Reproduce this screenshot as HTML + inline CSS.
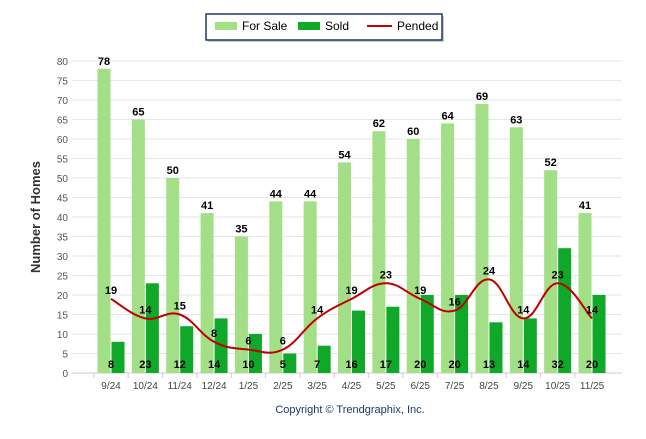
<!DOCTYPE html>
<html><head><meta charset="utf-8"><style>
body{margin:0;background:#fff;font-family:"Liberation Sans",Arial,sans-serif}
svg text{font-family:"Liberation Sans",Arial,sans-serif}
</style></head><body>
<svg id="c" width="646" height="434" xmlns="http://www.w3.org/2000/svg">
<g>
<rect x="208" y="16" width="236" height="26" fill="#ccc"/>
<rect x="206" y="14" width="236" height="26" fill="#fff" stroke="#1f3864" stroke-width="1.5"/>
<rect x="215" y="22" width="22" height="8" fill="#a2df86"/>
<text x="242" y="30" font-size="12" fill="#000">For Sale</text>
<rect x="298" y="22" width="22" height="8" fill="#0fa829"/>
<text x="325" y="30" font-size="12" fill="#000">Sold</text>
<line x1="367" y1="26" x2="392" y2="26" stroke="#c00000" stroke-width="2"/>
<text x="397" y="30" font-size="12" fill="#000">Pended</text>
</g>
<text transform="translate(40,217) rotate(-90)" text-anchor="middle" font-size="13" font-weight="bold" fill="#333">Number of Homes</text>
<text x="350" y="413" text-anchor="middle" font-size="11" fill="#1f3864">Copyright © Trendgraphix, Inc.</text>
<g id="grid"></g><g id="bars"></g><g id="line"></g><g id="labels"></g>
</svg>
<script>
const categories=["9/24","10/24","11/24","12/24","1/25","2/25","3/25","4/25","5/25","6/25","7/25","8/25","9/25","10/25","11/25"];
const forSale=[78,65,50,41,35,44,44,54,62,60,64,69,63,52,41];
const sold=[8,23,12,14,10,5,7,16,17,20,20,13,14,32,20];
const pended=[19,14,15,8,6,6,14,19,23,19,16,24,14,23,14];
const yTicks=[0,5,10,15,20,25,30,35,40,45,50,55,60,65,70,75,80];
const NS="http://www.w3.org/2000/svg";
const y=v=>373-v*3.9;
const x=i=>111+i*34.36;
function mk(tag,attrs,parent,txt){const e=document.createElementNS(NS,tag);for(const k in attrs)e.setAttribute(k,attrs[k]);if(txt!==undefined)e.textContent=txt;document.getElementById(parent).appendChild(e);return e;}
yTicks.forEach(t=>{
 const l=mk('line',{x1:72,x2:622,y1:y(t),y2:y(t),stroke:t===0?'#ccc':'#e6e6e6','stroke-width':1},'grid');
 
 
 const tx=mk('text',{x:68,y:y(t)+4,'text-anchor':'end','font-size':10,fill:'#555'},'grid',t);
 
 
});
categories.forEach((c,i)=>{
 const tk=mk('line',{x1:x(i)-17.2,x2:x(i)-17.2,y1:373,y2:378,stroke:'#ccc'},'grid');
 
 
 const t=mk('text',{x:x(i),y:389,'text-anchor':'middle','font-size':10,fill:'#444'},'grid',c);
 
 
 const b1=mk('rect',{x:x(i)-13.5,y:y(forSale[i]),width:13,height:y(0)-y(forSale[i]),fill:'#a2df86'},'bars');
 
 
 const b2=mk('rect',{x:x(i)+0.5,y:y(sold[i]),width:13,height:y(0)-y(sold[i]),fill:'#0fa829'},'bars');
 
 
 const l1=mk('text',{x:x(i)-7,y:y(forSale[i])-4,'text-anchor':'middle','font-size':11,'font-weight':'bold',fill:'#000'},'labels',forSale[i]);
 
 
 const l2=mk('text',{x:x(i),y:368,'text-anchor':'middle','font-size':11,'font-weight':'bold',fill:'#000'},'labels',sold[i]);
 
 
 const l3=mk('text',{x:x(i),y:y(pended[i])-5,'text-anchor':'middle','font-size':11,'font-weight':'bold',fill:'#000'},'labels',pended[i]);
 
 
});
const pts=pended.map((v,i)=>[x(i),y(v)]);
let d='M'+pts[0][0]+','+pts[0][1];
for(let i=0;i<pts.length-1;i++){
 const p0=pts[i-1]||pts[i],p1=pts[i],p2=pts[i+1],p3=pts[i+2]||p2;
 const k=0.2;
 d+=` C${p1[0]+(p2[0]-p0[0])*k},${p1[1]+(p2[1]-p0[1])*k} ${p2[0]-(p3[0]-p1[0])*k},${p2[1]-(p3[1]-p1[1])*k} ${p2[0]},${p2[1]}`;
}
const pl=mk('path',{d:d,fill:'none',stroke:'#c00000','stroke-width':2},'line');


</script>
</body></html>
